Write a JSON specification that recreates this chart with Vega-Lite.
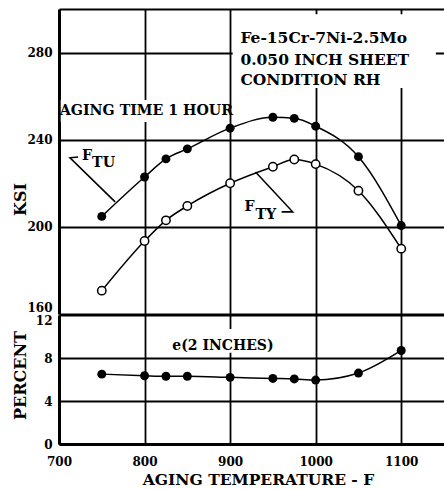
{
  "$schema": "https://vega.github.io/schema/vega-lite/v6.json",
  "padding": {"left": 11, "top": 9, "right": 0, "bottom": 0},
  "spacing": 0,
  "background": "white",
  "config": {
    "view": {"stroke": null},
    "font": "DejaVu Serif",
    "axis": {
      "labelFont": "DejaVu Serif", "labelFontWeight": "bold", "labelFontSize": 12, "labelColor": "black",
      "titleFont": "DejaVu Serif", "titleFontWeight": "bold", "titleFontSize": 16, "titleColor": "black",
      "gridColor": "black", "gridWidth": 1.8, "gridOpacity": 1,
      "ticks": false, "tickSize": 0, "domainColor": "black", "domainWidth": 3, "format": "d"
    },
    "text": {"font": "DejaVu Serif", "fontWeight": "bold", "fontSize": 14.5, "color": "black"}
  },
  "datasets": {
    "meas": [
      {"T": 750, "prop": "FTU", "v": 204.8},
      {"T": 800, "prop": "FTU", "v": 222.9},
      {"T": 825, "prop": "FTU", "v": 231.2},
      {"T": 850, "prop": "FTU", "v": 235.8},
      {"T": 900, "prop": "FTU", "v": 245.3},
      {"T": 950, "prop": "FTU", "v": 250.3},
      {"T": 975, "prop": "FTU", "v": 249.8},
      {"T": 1000, "prop": "FTU", "v": 246.2},
      {"T": 1050, "prop": "FTU", "v": 232.2},
      {"T": 1100, "prop": "FTU", "v": 200.6},
      {"T": 750, "prop": "FTY", "v": 170.7},
      {"T": 800, "prop": "FTY", "v": 193.5},
      {"T": 825, "prop": "FTY", "v": 203.0},
      {"T": 850, "prop": "FTY", "v": 209.6},
      {"T": 900, "prop": "FTY", "v": 220.0},
      {"T": 950, "prop": "FTY", "v": 227.6},
      {"T": 975, "prop": "FTY", "v": 230.9},
      {"T": 1000, "prop": "FTY", "v": 228.8},
      {"T": 1050, "prop": "FTY", "v": 216.6},
      {"T": 1100, "prop": "FTY", "v": 190.0},
      {"T": 750, "prop": "e", "v": 6.5},
      {"T": 800, "prop": "e", "v": 6.35},
      {"T": 825, "prop": "e", "v": 6.3},
      {"T": 850, "prop": "e", "v": 6.3},
      {"T": 900, "prop": "e", "v": 6.2},
      {"T": 950, "prop": "e", "v": 6.1},
      {"T": 975, "prop": "e", "v": 6.05},
      {"T": 1000, "prop": "e", "v": 5.95},
      {"T": 1050, "prop": "e", "v": 6.6},
      {"T": 1100, "prop": "e", "v": 8.7}
    ],
    "topmasks": [
      {"T1": 903, "T2": 1140.5, "v1": 263.7, "v2": 297.6},
      {"T1": 702, "T2": 896, "v1": 248.1, "v2": 258.2}
    ],
    "boxnotes": [
      {"T": 912, "v": 286.5, "label": "Fe-15Cr-7Ni-2.5Mo"},
      {"T": 912, "v": 276.6, "label": "0.050 INCH SHEET"},
      {"T": 912, "v": 267.4, "label": "CONDITION RH"}
    ],
    "notes": [
      {"T": 701, "v": 253.2, "label": "AGING TIME 1 HOUR"},
      {"T": 727, "v": 232.4, "label": "F"},
      {"T": 738.7, "v": 229.4, "label": "TU"},
      {"T": 916.8, "v": 209.2, "label": "F"},
      {"T": 929.7, "v": 205.4, "label": "TY"}
    ],
    "leaders": [
      {"seg": "TU", "i": 1, "T": 722.3, "v": 232.1},
      {"seg": "TU", "i": 2, "T": 712.9, "v": 231.7},
      {"seg": "TU", "i": 3, "T": 765.6, "v": 211.5},
      {"seg": "TY", "i": 1, "T": 960.2, "v": 206.9},
      {"seg": "TY", "i": 2, "T": 973.1, "v": 206.9},
      {"seg": "TY", "i": 3, "T": 929.7, "v": 225.2}
    ],
    "bottommasks": [
      {"T1": 830, "T2": 952, "v1": 8.5, "v2": 10.7}
    ],
    "enotes": [
      {"T": 832.4, "v": 9.1, "label": "e(2 INCHES)"}
    ]
  },
  "vconcat": [
    {
      "width": 385,
      "height": 305,
      "layer": [
        {
          "data": {"name": "topmasks"},
          "mark": {"type": "rect", "color": "white", "opacity": 1},
          "encoding": {
            "x": {"field": "T1", "type": "quantitative", "scale": {"domain": [700, 1150], "nice": false, "zero": false},
                  "axis": {"values": [800, 900, 1000, 1100], "labels": false, "domain": false, "title": null, "grid": true}},
            "x2": {"field": "T2"},
            "y": {"field": "v1", "type": "quantitative", "scale": {"domain": [160, 300], "nice": false, "zero": false},
                  "axis": {"values": [160, 200, 240, 280, 300], "grid": true, "title": "KSI", "labelPadding": 7,
                           "labelExpr": "datum.value == 300 ? '' : datum.label",
                           "titleX": -34, "titleY": 190, "titleBaseline": "alphabetic",
                           "labelBaseline": {"condition": {"test": "datum.value == 160", "value": "bottom"}, "value": "middle"},
                           "minExtent": 45, "maxExtent": 45}},
            "y2": {"field": "v2"}
          }
        },
        {
          "data": {"name": "meas"},
          "transform": [{"filter": "datum.prop != 'e'"}],
          "mark": {"type": "line", "interpolate": "monotone", "color": "black", "strokeWidth": 1.5},
          "encoding": {
            "x": {"field": "T", "type": "quantitative"},
            "y": {"field": "v", "type": "quantitative"},
            "detail": {"field": "prop"}
          }
        },
        {
          "data": {"name": "leaders"},
          "mark": {"type": "line", "color": "black", "strokeWidth": 1.6},
          "encoding": {
            "x": {"field": "T", "type": "quantitative"},
            "y": {"field": "v", "type": "quantitative"},
            "detail": {"field": "seg"},
            "order": {"field": "i", "type": "quantitative"}
          }
        },
        {
          "data": {"name": "meas"},
          "transform": [{"filter": "datum.prop == 'FTU'"}],
          "mark": {"type": "point", "filled": true, "color": "black", "size": 80, "opacity": 1},
          "encoding": {
            "x": {"field": "T", "type": "quantitative"},
            "y": {"field": "v", "type": "quantitative"}
          }
        },
        {
          "data": {"name": "meas"},
          "transform": [{"filter": "datum.prop == 'FTY'"}],
          "mark": {"type": "point", "filled": false, "fill": "white", "stroke": "black", "strokeWidth": 1.5, "size": 70, "opacity": 1, "fillOpacity": 1},
          "encoding": {
            "x": {"field": "T", "type": "quantitative"},
            "y": {"field": "v", "type": "quantitative"}
          }
        },
        {
          "data": {"name": "boxnotes"},
          "mark": {"type": "text", "align": "left", "baseline": "middle", "fontSize": 15.5},
          "encoding": {
            "x": {"field": "T", "type": "quantitative"},
            "y": {"field": "v", "type": "quantitative"},
            "text": {"field": "label"}
          }
        },
        {
          "data": {"name": "notes"},
          "mark": {"type": "text", "align": "left", "baseline": "middle", "fontSize": 14.2},
          "encoding": {
            "x": {"field": "T", "type": "quantitative"},
            "y": {"field": "v", "type": "quantitative"},
            "text": {"field": "label"}
          }
        }
      ]
    },
    {
      "width": 385,
      "height": 129,
      "layer": [
        {
          "data": {"name": "bottommasks"},
          "mark": {"type": "rect", "color": "white", "opacity": 1},
          "encoding": {
            "x": {"field": "T1", "type": "quantitative", "scale": {"domain": [700, 1150], "nice": false, "zero": false},
                  "axis": {"values": [700, 800, 900, 1000, 1100], "grid": true, "labelFlush": false, "labelPadding": 12,
                           "title": "AGING TEMPERATURE - F", "titlePadding": 5, "titleX": 199, "titleFontSize": 15.5}},
            "x2": {"field": "T2"},
            "y": {"field": "v1", "type": "quantitative", "scale": {"domain": [0, 12], "nice": false, "zero": false},
                  "axis": {"values": [0, 4, 8, 12], "grid": true, "title": "PERCENT", "labelPadding": 7,
                           "titleX": -34, "titleY": 60, "titleBaseline": "alphabetic",
                           "labelBaseline": {"condition": {"test": "datum.value == 12", "value": "top"}, "value": "middle"},
                           "minExtent": 45, "maxExtent": 45}},
            "y2": {"field": "v2"}
          }
        },
        {
          "data": {"name": "meas"},
          "transform": [{"filter": "datum.prop == 'e'"}],
          "mark": {"type": "line", "interpolate": "monotone", "color": "black", "strokeWidth": 1.5},
          "encoding": {
            "x": {"field": "T", "type": "quantitative"},
            "y": {"field": "v", "type": "quantitative"}
          }
        },
        {
          "data": {"name": "meas"},
          "transform": [{"filter": "datum.prop == 'e'"}],
          "mark": {"type": "point", "filled": true, "color": "black", "size": 80, "opacity": 1},
          "encoding": {
            "x": {"field": "T", "type": "quantitative"},
            "y": {"field": "v", "type": "quantitative"}
          }
        },
        {
          "data": {"name": "enotes"},
          "mark": {"type": "text", "align": "left", "baseline": "middle", "fontSize": 14},
          "encoding": {
            "x": {"field": "T", "type": "quantitative"},
            "y": {"field": "v", "type": "quantitative"},
            "text": {"field": "label"}
          }
        }
      ]
    }
  ]
}
